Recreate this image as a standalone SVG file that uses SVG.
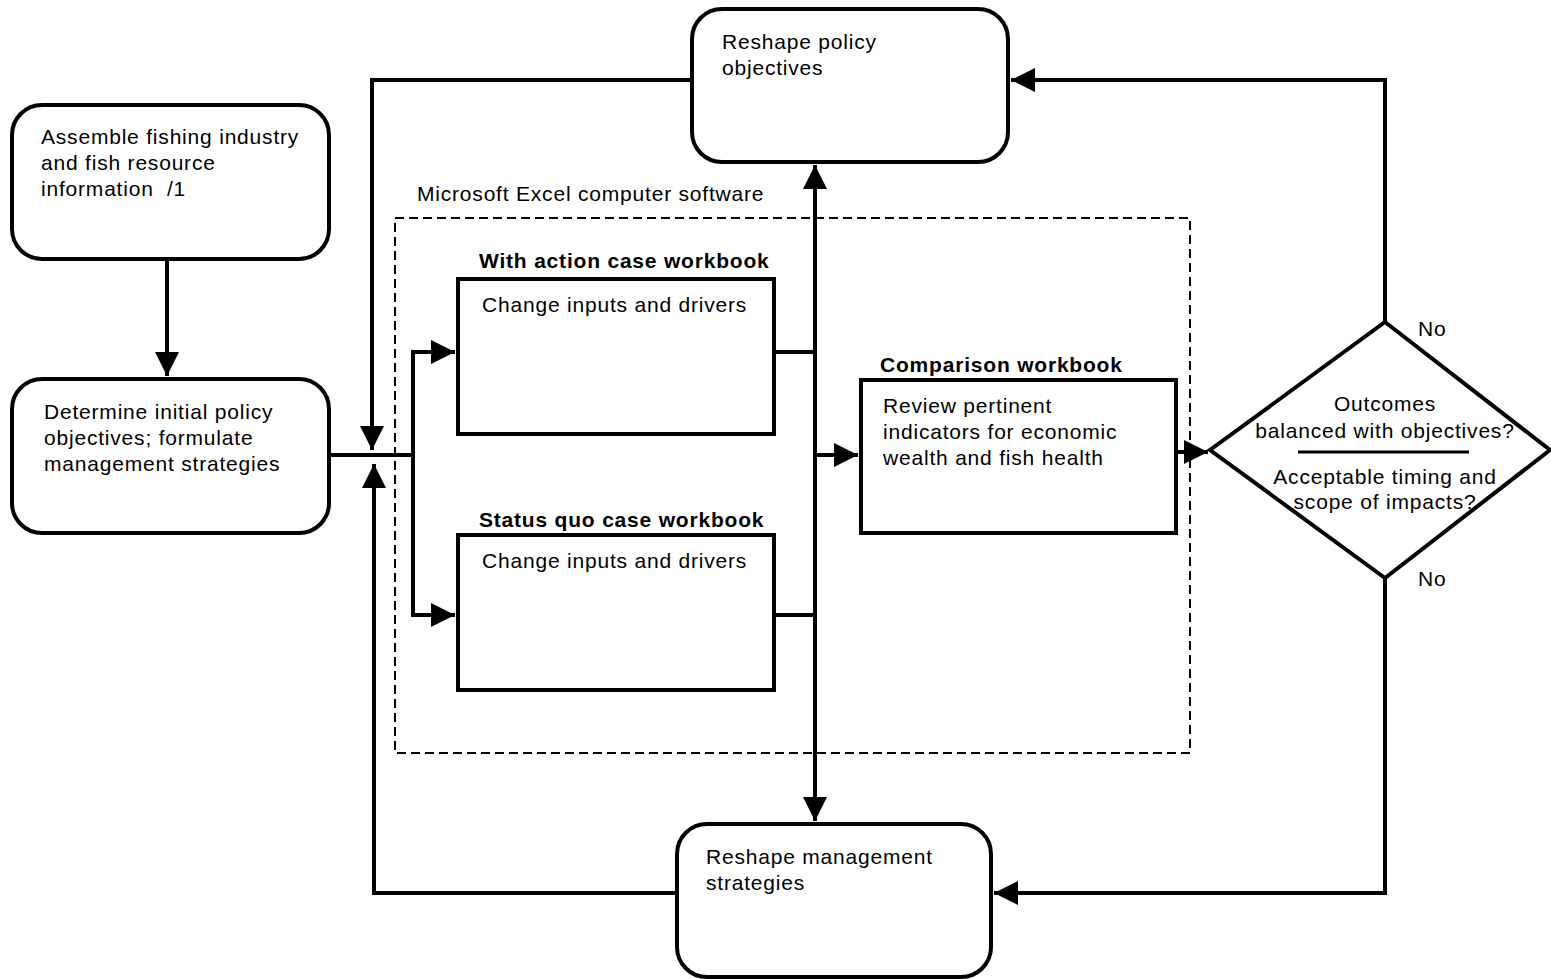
<svg xmlns="http://www.w3.org/2000/svg" width="1551" height="979" viewBox="0 0 1551 979">
<style>
.n{fill:#fff;stroke:#000;stroke-width:4}
.t{font-family:"Liberation Sans",Arial,sans-serif;font-size:21px;letter-spacing:0.8px;fill:#000}
.b{font-weight:bold}
.c{fill:none;stroke:#000;stroke-width:4}
.d{fill:none;stroke:#000;stroke-width:2;stroke-dasharray:9,5}
</style>
<defs>
<marker id="ah" markerWidth="6" markerHeight="6" refX="6" refY="3" orient="auto" markerUnits="strokeWidth">
<path d="M0,0 L6,3 L0,6 Z" fill="#000"/>
</marker>
</defs>
<rect width="1551" height="979" fill="#fff"/>
<g id="excel-frame">
<rect class="d" x="395" y="218" width="795" height="535"/>
<text class="t" x="417" y="201">Microsoft Excel computer software</text>
</g>
<g id="connectors">
<path class="c" d="M167,259 V376" marker-end="url(#ah)"/>
<path class="c" d="M329,455 H413"/>
<path class="c" d="M413,352 V615"/>
<path class="c" d="M411,352 H455" marker-end="url(#ah)"/>
<path class="c" d="M411,615 H455" marker-end="url(#ah)"/>
<path class="c" d="M692,80 H372 V450" marker-end="url(#ah)"/>
<path class="c" d="M677,893 H374 V464" marker-end="url(#ah)"/>
<path class="c" d="M774,352 H815"/>
<path class="c" d="M774,615 H815"/>
<path class="c" d="M815,490 V165" marker-end="url(#ah)"/>
<path class="c" d="M815,420 V821" marker-end="url(#ah)"/>
<path class="c" d="M815,455 H858" marker-end="url(#ah)"/>
<path class="c" d="M1176,452 H1208" marker-end="url(#ah)"/>
<path class="c" d="M1385,322 V80 H1011" marker-end="url(#ah)"/>
<path class="c" d="M1385,578 V893 H994" marker-end="url(#ah)"/>
</g>
<g id="assemble">
<rect class="n" x="12" y="105" width="317" height="154" rx="30"/>
<text class="t" x="41" y="144">Assemble fishing industry</text>
<text class="t" x="41" y="170">and fish resource</text>
<text class="t" x="41" y="196" xml:space="preserve">information  /1</text>
</g>
<g id="determine">
<rect class="n" x="12" y="379" width="317" height="154" rx="30"/>
<text class="t" x="44" y="419">Determine initial policy</text>
<text class="t" x="44" y="445">objectives; formulate</text>
<text class="t" x="44" y="471">management strategies</text>
</g>
<g id="reshape-policy">
<rect class="n" x="692" y="9" width="316" height="153" rx="30"/>
<text class="t" x="722" y="49">Reshape policy</text>
<text class="t" x="722" y="75">objectives</text>
</g>
<g id="reshape-management">
<rect class="n" x="677" y="824" width="314" height="153" rx="30"/>
<text class="t" x="706" y="864">Reshape management</text>
<text class="t" x="706" y="890">strategies</text>
</g>
<g id="with-action">
<text class="t b" x="479" y="268">With action case workbook</text>
<rect class="n" x="458" y="279" width="316" height="155"/>
<text class="t" x="482" y="312">Change inputs and drivers</text>
</g>
<g id="status-quo">
<text class="t b" x="479" y="527">Status quo case workbook</text>
<rect class="n" x="458" y="535" width="316" height="155"/>
<text class="t" x="482" y="568">Change inputs and drivers</text>
</g>
<g id="comparison">
<text class="t b" x="880" y="372">Comparison workbook</text>
<rect class="n" x="861" y="380" width="315" height="153"/>
<text class="t" x="883" y="413">Review pertinent</text>
<text class="t" x="883" y="439">indicators for economic</text>
<text class="t" x="883" y="465">wealth and fish health</text>
</g>
<g id="decision">
<path class="n" d="M1385,322 L1550,450 L1385,578 L1210,450 Z"/>
<line x1="1298" y1="452" x2="1469" y2="452" stroke="#000" stroke-width="3"/>
<text class="t" x="1385" y="411" text-anchor="middle">Outcomes</text>
<text class="t" x="1385" y="438" text-anchor="middle">balanced with objectives?</text>
<text class="t" x="1385" y="484" text-anchor="middle">Acceptable timing and</text>
<text class="t" x="1385" y="509" text-anchor="middle">scope of impacts?</text>
<text class="t" x="1418" y="336">No</text>
<text class="t" x="1418" y="586">No</text>
</g>
</svg>
